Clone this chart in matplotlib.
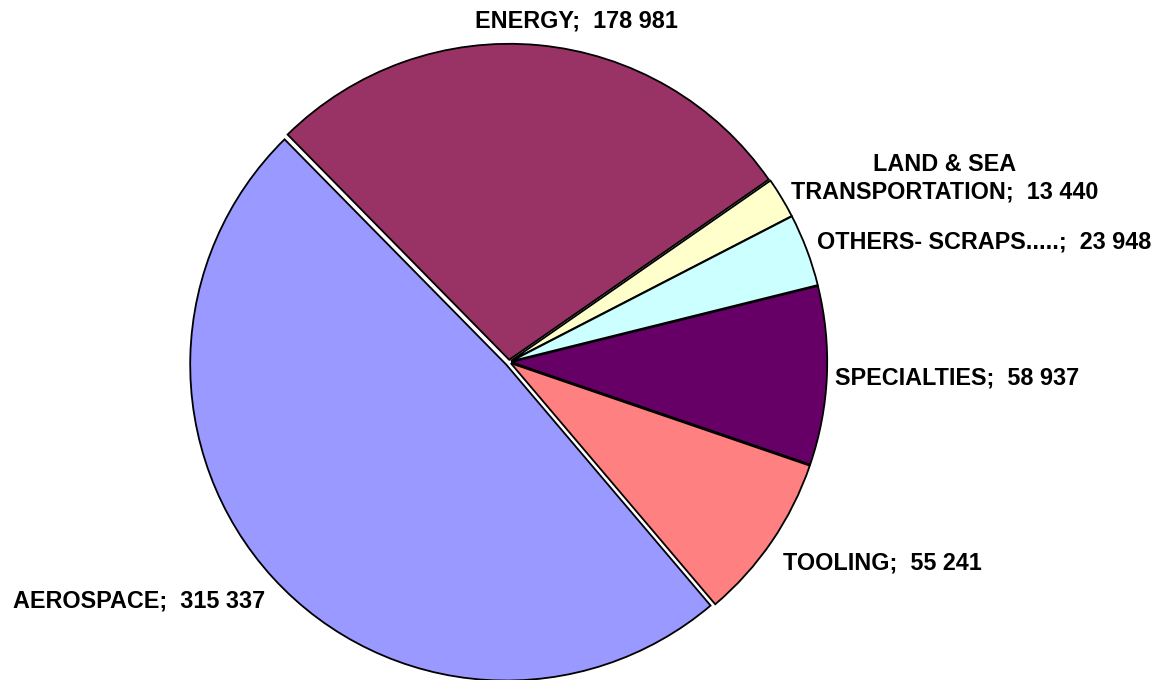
import matplotlib
matplotlib.use('Agg')
import matplotlib.pyplot as plt

# Données du graphique
categories = ['AEROSPACE', 'ENERGY', 'LAND & SEA\nTRANSPORTATION', 'OTHERS- SCRAPS.....',
              'SPECIALTIES', 'TOOLING']
values = [315337, 178981, 13440, 23948, 58937, 55241]
colors = ['#9999FF', '#993366', '#FFFFCC', '#CCFFFF', '#660066', '#FF8080']
explode = [0.012, 0.007, 0.007, 0.007, 0.007, 0.007]

# Position des étiquettes (unités du camembert, rayon = 1)
label_pos = [(-1.17, -0.755), (0.214, 1.079), (1.378, 0.583), (1.503, 0.381),
             (1.418, -0.051), (1.180, -0.636)]

W, H = 1153, 680
cx, cy, r = 509, 362, 316

fig = plt.figure(figsize=(W / 100, H / 100), dpi=100)
ax = fig.add_axes([0, 0, 1, 1])
ax.pie(values, colors=colors, startangle=-49.7, counterclock=False,
       explode=explode, radius=1,
       wedgeprops=dict(edgecolor='black', linewidth=1.3))
ax.set_xlim(-cx / r, (W - cx) / r)
ax.set_ylim(-(H - cy) / r, cy / r)
ax.set_aspect('equal')
ax.axis('off')


def fmt(v):
    return f'{v:,}'.replace(',', ' ')


for cat, val, (x, y) in zip(categories, values, label_pos):
    ax.text(x, y, f'{cat};  {fmt(val)}', ha='center', va='center',
            fontsize=16.8, fontweight='bold', family='Liberation Sans',
            linespacing=1.25)

fig.savefig('out.png', dpi=100)
